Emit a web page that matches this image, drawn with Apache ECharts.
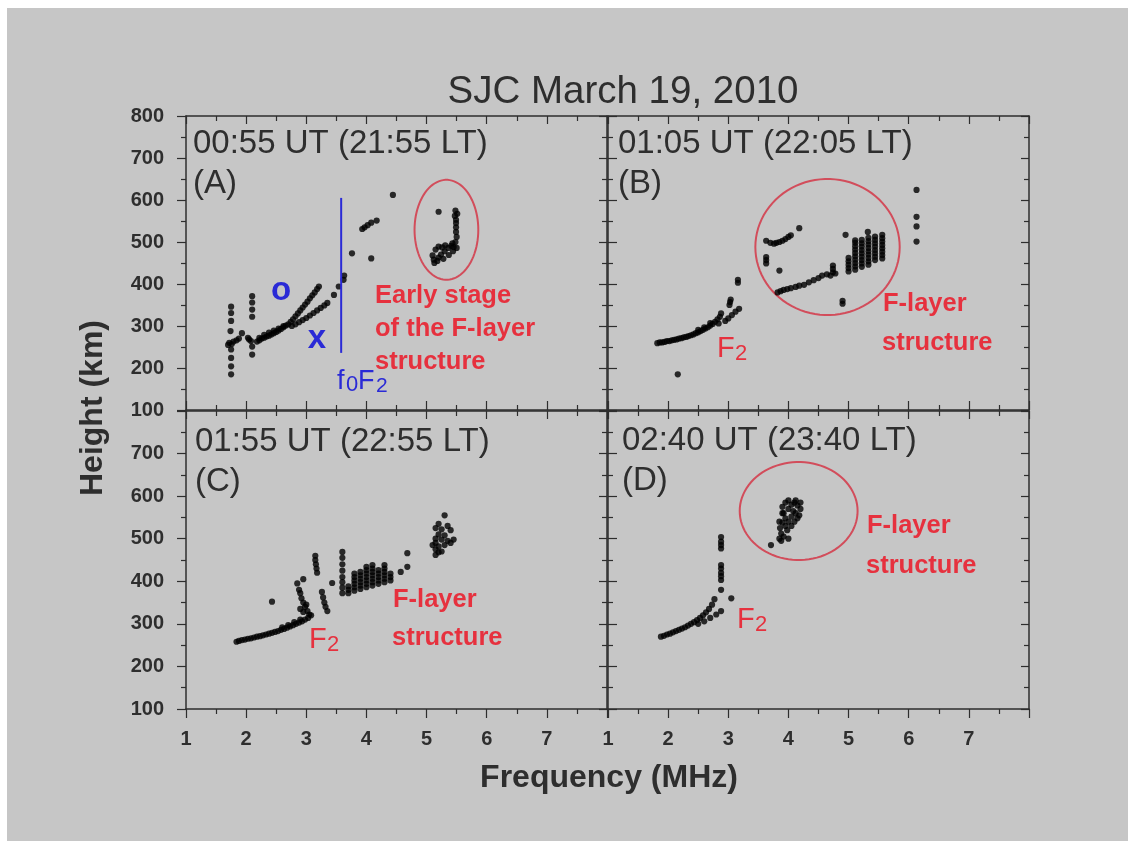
<!DOCTYPE html>
<html><head><meta charset="utf-8">
<script src="https://cdn.jsdelivr.net/npm/echarts@6/dist/echarts.min.js"></script>
<style>html,body{margin:0;padding:0;background:#fff}#c{width:1132px;height:848px}</style>
</head><body><div id="c"></div><script>
// ---------- DATA ----------
const title = 'SJC March 19, 2010';
const xName = 'Frequency (MHz)';
const yName = 'Height (km)';
const xTickValues = [1, 2, 3, 4, 5, 6, 7];
const yTickValues = [100, 200, 300, 400, 500, 600, 700, 800];
const panelTimes = ['00:55 UT (21:55 LT)', '01:05 UT (22:05 LT)', '01:55 UT (22:55 LT)', '02:40 UT (23:40 LT)'];
const panelLetters = ['(A)', '(B)', '(C)', '(D)'];

const panelA = [
  [1.75,346],[1.75,331],[1.75,312],[1.74,288],[1.72,260],[1.76,257],[1.79,263],[1.75,244],[1.75,224],[1.75,204],[1.75,185],
  [1.70,255],[1.84,266],[1.88,270],
  [1.93,283],[2.05,268],[2.03,272],[2.08,264],
  [2.1,371],[2.1,356],[2.1,339],[2.1,322],[2.1,251],[2.1,232],
  [2.18,263],[2.22,266],[2.26,270],[2.3,272],[2.34,275],[2.38,277],[2.42,280],[2.46,283],[2.5,286],[2.54,289],[2.58,293],[2.62,297],[2.66,301],[2.7,304],
  [2.22,272],[2.3,279],[2.38,284],[2.46,289],[2.54,294],[2.62,300],
  [2.74,310],[2.78,316],[2.82,323],[2.86,330],[2.9,337],[2.94,344],[2.98,351],[3.02,358],[3.06,366],[3.1,373],[3.14,380],[3.18,388],[3.21,394],
  [2.76,300],[2.82,304],[2.88,309],[2.94,314],[3.0,319],[3.06,325],[3.12,331],[3.18,337],[3.24,343],[3.3,349],[3.35,355],[3.46,374],[3.54,394],[3.62,410],[3.63,420],
  [3.76,473],[4.08,461],[3.93,531],[3.97,535],[4.02,540],[4.08,546],[4.17,551],[4.44,612],
  [5.2,572],[5.48,575],[5.51,567],[5.47,562],[5.49,553],[5.49,545],[5.49,535],[5.49,524],[5.5,512],[5.48,500],[5.43,497],
  [5.1,468],[5.15,482],[5.2,489],[5.26,487],[5.31,492],[5.36,486],[5.41,491],[5.5,486],[5.12,458],[5.18,455],[5.24,470],[5.3,478],[5.37,469],[5.44,478],[5.13,450],[5.2,463],[5.45,488],[5.28,460]
];
const panelB = [
  [1.82,259],[1.86,261],[1.9,261],[1.94,262],[1.98,264],[2.02,264],[2.06,266],[2.1,267],[2.14,268],[2.18,270],[2.22,271],[2.26,273],[2.3,274],[2.34,276],[2.38,278],[2.42,280],[2.46,283],[2.5,285],[2.54,288],[2.58,291],[2.62,294],[2.66,297],[2.7,301],[2.74,305],[2.78,310],
  [2.5,291],[2.6,297],[2.7,307],
  [2.82,316],[2.86,322],[2.88,330],[2.84,306],
  [3.02,350],[3.03,357],[3.04,363],[3.16,403],[3.16,410],
  [2.95,312],[3.0,318],[3.06,326],[3.12,334],[3.18,341],
  [2.16,185],
  [3.63,503],[3.7,498],[3.76,496],[3.8,498],[3.85,500],[3.9,503],[3.95,507],[4.0,512],[4.04,516],[4.18,533],
  [3.63,464],[3.63,457],[3.63,449],[3.85,432],
  [3.82,380],[3.87,383],[3.92,386],[3.98,388],[4.04,390],[4.12,393],[4.18,396],[4.26,398],[4.34,404],[4.42,409],[4.5,414],[4.56,420],[4.64,423],[4.7,420],[4.74,428],[4.74,436],[4.74,444],[4.78,425],
  [4.9,360],[4.9,353],[4.95,517],[5.32,524],
  [5.0,430],[5.0,438],[5.0,446],[5.0,454],[5.0,462],
  [5.11,434],[5.11,442],[5.11,450],[5.11,458],[5.11,466],[5.11,474],[5.11,482],[5.11,490],[5.11,498],[5.11,504],
  [5.22,441],[5.22,449],[5.22,457],[5.22,465],[5.22,473],[5.22,481],[5.22,489],[5.22,497],[5.22,505],
  [5.33,446],[5.33,454],[5.33,462],[5.33,470],[5.33,478],[5.33,486],[5.33,494],[5.33,502],[5.33,510],
  [5.44,457],[5.44,465],[5.44,473],[5.44,481],[5.44,489],[5.44,497],[5.44,505],[5.44,513],
  [5.56,461],[5.56,469],[5.56,477],[5.56,485],[5.56,493],[5.56,501],[5.56,509],[5.56,517],
  [6.13,624],[6.13,560],[6.13,537],[6.13,501]
];
const panelC = [
  [1.84,258],[1.88,260],[1.93,262],[1.98,263],[2.03,265],[2.08,266],[2.13,268],[2.18,270],[2.23,271],[2.28,273],[2.33,275],[2.38,277],[2.43,279],[2.48,281],[2.53,283],[2.58,286],[2.63,288],[2.68,291],[2.73,294],[2.78,297],[2.83,300],[2.88,303],[2.93,306],[2.98,310],[3.03,314],[3.08,320],
  [2.6,292],[2.7,297],[2.8,304],[2.9,310],
  [2.43,352],
  [2.85,395],[2.88,380],[2.9,372],[2.92,360],[2.95,350],[2.98,340],[2.9,335],[2.95,328],[3.0,345],[3.02,330],[3.05,322],[2.95,405],
  [3.15,460],[3.15,450],[3.16,440],[3.17,430],[3.18,420],
  [3.26,375],[3.28,362],[3.3,350],[3.32,340],[3.35,330],
  [3.43,396],
  [3.6,469],[3.6,455],[3.6,440],[3.6,425],[3.6,410],[3.6,398],[3.6,385],[3.6,372],
  [3.7,372],[3.7,380],[3.7,388],
  [3.8,378],[3.8,386],[3.8,394],[3.8,402],[3.8,410],[3.8,418],
  [3.9,382],[3.9,390],[3.9,398],[3.9,406],[3.9,414],[3.9,422],
  [4.0,386],[4.0,394],[4.0,402],[4.0,410],[4.0,418],[4.0,426],[4.0,434],
  [4.1,390],[4.1,398],[4.1,406],[4.1,414],[4.1,422],[4.1,430],[4.1,438],
  [4.2,394],[4.2,402],[4.2,410],[4.2,418],[4.2,426],
  [4.3,398],[4.3,406],[4.3,414],[4.3,422],[4.3,430],[4.3,438],
  [4.4,402],[4.4,410],[4.4,418],
  [4.57,422],[4.68,466],[4.68,434],
  [5.3,555],[5.2,535],[5.35,530],[5.15,525],[5.25,522],[5.4,520],[5.2,510],[5.3,508],[5.15,500],[5.25,498],[5.35,495],[5.45,498],[5.15,490],[5.2,482],[5.3,485],[5.15,475],[5.2,468],[5.15,462],[5.25,470],[5.4,490],[5.1,485]
];
const panelD = [
  [1.88,270],[1.93,272],[1.98,275],[2.03,277],[2.08,280],[2.13,283],[2.18,286],[2.23,289],[2.28,292],[2.33,296],[2.38,300],[2.43,304],[2.48,309],[2.53,314],[2.58,320],[2.63,327],[2.68,335],[2.73,345],[2.77,358],
  [2.5,300],[2.6,306],[2.7,314],[2.8,322],[2.88,330],[3.05,360],
  [2.88,380],[2.88,403],[2.88,412],[2.88,420],[2.88,430],[2.88,438],[2.88,477],[2.88,485],[2.88,493],[2.88,504],
  [3.71,485],[3.85,500],[3.88,512],[3.86,525],[3.9,538],[3.95,548],[3.92,560],[4.0,570],[4.05,580],[4.1,585],[4.15,578],[4.2,570],[4.12,560],[4.05,552],[4.0,540],[3.95,530],[4.1,540],[4.15,548],[4.18,555],[3.9,575],[3.95,585],[4.0,590],[4.2,585],[3.92,505],[3.98,520],[4.05,530],[3.88,495],[4.0,500],[3.85,540],[3.9,560],[4.08,565],[4.12,590]
];
const foF2Line = [[3.58,236],[3.58,605]];
// ellipse: [centre freq, centre height, freq radius, height radius]
const ellipseA = [5.33, 529, 0.53, 119];
const ellipseB = [4.65, 488, 1.2, 162];
const ellipseD = [4.17, 565, 0.98, 115];

// ---------- CHART ----------
const FONT = '"Liberation Sans", Arial, Helvetica, sans-serif';
const INK = '#2e2e2e';
const RED = '#e6313e';
const BLUE = '#2a2ad6';
const grids = [
  {left:186, top:116, width:421, height:294},
  {left:608, top:116, width:421, height:294},
  {left:186, top:411, width:421, height:298},
  {left:608, top:411, width:421, height:298}
];
const xAxes = [], yAxes = [];
grids.forEach((g, i) => {
  const isLeft = i % 2 === 0, isBottom = i >= 2;
  const base = {type:'value', gridIndex:i, min:1, max:8, interval:1,
    axisLine:{show:true, onZero:false, lineStyle:{color:INK, width:1.5}},
    splitLine:{show:false}, minorSplitLine:{show:false},
    minorTick:{show:true, splitNumber:2, length:5, lineStyle:{color:INK, width:1.2}}};
  xAxes.push(Object.assign({}, base, {position:'bottom',
    axisTick:{show:true, inside:!isBottom, length:9, lineStyle:{color:INK, width:1.2}},
    axisLabel:{show:isBottom, margin:20, fontFamily:FONT, fontWeight:'bold', fontSize:20, color:INK,
      formatter: v => xTickValues.indexOf(v) >= 0 ? String(v) : ''}}));
  xAxes.push(Object.assign({}, base, {position:'top',
    axisTick:{show:true, inside:true, length:8, lineStyle:{color:INK, width:1.2}},
    axisLabel:{show:false}}));
  const ybase = {type:'value', gridIndex:i, min:100, max:800, interval:100,
    axisLine:{show:true, onZero:false, lineStyle:{color:INK, width:1.5}},
    splitLine:{show:false}, minorSplitLine:{show:false},
    minorTick:{show:true, splitNumber:2, length:5, lineStyle:{color:INK, width:1.2}}};
  yAxes.push(Object.assign({}, ybase, {position:'left',
    axisTick:{show:true, inside:!isLeft, length:9, lineStyle:{color:INK, width:1.2}},
    axisLabel:{show:isLeft, margin:22, fontFamily:FONT, fontWeight:'bold', fontSize:20, color:INK,
      formatter: v => (isBottom && v === 800) ? '' : (yTickValues.indexOf(v) >= 0 ? String(v) : '')}}));
  yAxes.push(Object.assign({}, ybase, {position:'right',
    axisTick:{show:true, inside:true, length:8, lineStyle:{color:INK, width:1.2}},
    axisLabel:{show:false}}));
});

const panels = [panelA, panelB, panelC, panelD];
const series = panels.map((d, i) => ({
  type:'scatter', xAxisIndex:2*i, yAxisIndex:2*i, data:d, symbol:'circle', symbolSize:6.2,
  itemStyle:{color:'#000'}, silent:true, animation:false
}));
series.push({type:'line', xAxisIndex:0, yAxisIndex:0, data:foF2Line, symbol:'none',
  lineStyle:{color:BLUE, width:2}, silent:true, animation:false});

function ellipseSeries(e, i) {
  return {type:'custom', xAxisIndex:2*i, yAxisIndex:2*i, data:[e], clip:false, silent:true, animation:false,
    encode:{x:0, y:1},
    renderItem: function(params, api) {
      const cf = api.value(0), ch = api.value(1), rf = api.value(2), rh = api.value(3);
      const pts = [];
      for (let k = 0; k < 90; k++) {
        const t = k / 90 * Math.PI * 2;
        pts.push(api.coord([cf + rf * Math.cos(t), ch + rh * Math.sin(t)]));
      }
      return {type:'polygon', shape:{points:pts}, style:{fill:'none', stroke:'#d24d5b', lineWidth:2}};
    }};
}
series.push(ellipseSeries(ellipseA, 0));
series.push(ellipseSeries(ellipseB, 1));
series.push(ellipseSeries(ellipseD, 3));

function txt(x, y, text, size, weight, color, align, extra) {
  return Object.assign({type:'text', x:x, y:y, silent:true, z:100,
    style:{text:text, font: weight + ' ' + size + 'px ' + FONT, fill:color,
      textAlign: align || 'left', textVerticalAlign:'middle', verticalAlign:'middle'}}, extra || {});
}
const labelPos = [[193,144,184],[618,144,184],[195,442,482],[622,441,481]];
const graphics = [
  {type:'rect', shape:{x:7, y:8, width:1121, height:833}, style:{fill:'#c6c6c6'}, z:-10, silent:true},
  txt(623, 92, title, 38.5, 'normal', INK, 'center'),
  txt(609, 778, xName, 32, 'bold', INK, 'center'),
  txt(93, 408, yName, 32, 'bold', INK, 'center', {rotation: Math.PI/2})
];
labelPos.forEach((p, i) => {
  graphics.push(txt(p[0], p[1], panelTimes[i], 33, 'normal', INK, 'left'));
  graphics.push(txt(p[0], p[2], panelLetters[i], 33, 'normal', INK, 'left'));
});
// panel A annotations
graphics.push(txt(281, 291, 'o', 33, 'bold', BLUE, 'center'));
graphics.push(txt(317, 339, 'x', 33, 'bold', BLUE, 'center'));
graphics.push(txt(337, 382, 'f', 27, 'normal', BLUE, 'left'));
graphics.push(txt(346, 385, '0', 22, 'normal', BLUE, 'left'));
graphics.push(txt(358, 382, 'F', 27, 'normal', BLUE, 'left'));
graphics.push(txt(376, 386, '2', 21, 'normal', BLUE, 'left'));
graphics.push(txt(375, 296, 'Early stage', 25.5, 'bold', RED, 'left'));
graphics.push(txt(375, 329, 'of the F-layer', 25.5, 'bold', RED, 'left'));
graphics.push(txt(375, 362, 'structure', 25.5, 'bold', RED, 'left'));
// panel B
graphics.push(txt(883, 304, 'F-layer', 25.5, 'bold', RED, 'left'));
graphics.push(txt(882, 343, 'structure', 25.5, 'bold', RED, 'left'));
graphics.push(txt(717, 349, 'F', 29, 'normal', RED, 'left'));
graphics.push(txt(735, 354, '2', 22, 'normal', RED, 'left'));
// panel C
graphics.push(txt(393, 600, 'F-layer', 25.5, 'bold', RED, 'left'));
graphics.push(txt(392, 638, 'structure', 25.5, 'bold', RED, 'left'));
graphics.push(txt(309, 640, 'F', 29, 'normal', RED, 'left'));
graphics.push(txt(327, 645, '2', 22, 'normal', RED, 'left'));
// panel D
graphics.push(txt(867, 526, 'F-layer', 25.5, 'bold', RED, 'left'));
graphics.push(txt(866, 566, 'structure', 25.5, 'bold', RED, 'left'));
graphics.push(txt(737, 620, 'F', 29, 'normal', RED, 'left'));
graphics.push(txt(755, 625, '2', 22, 'normal', RED, 'left'));

const chart = echarts.init(document.getElementById('c'), null, {renderer:'canvas'});
chart.setOption({
  backgroundColor:'#ffffff',
  animation:false,
  grid: grids.map(g => Object.assign({containLabel:false, outerBoundsMode:'none'}, g)),
  xAxis: xAxes,
  yAxis: yAxes,
  series: series,
  graphic: graphics
});
</script></body></html>
